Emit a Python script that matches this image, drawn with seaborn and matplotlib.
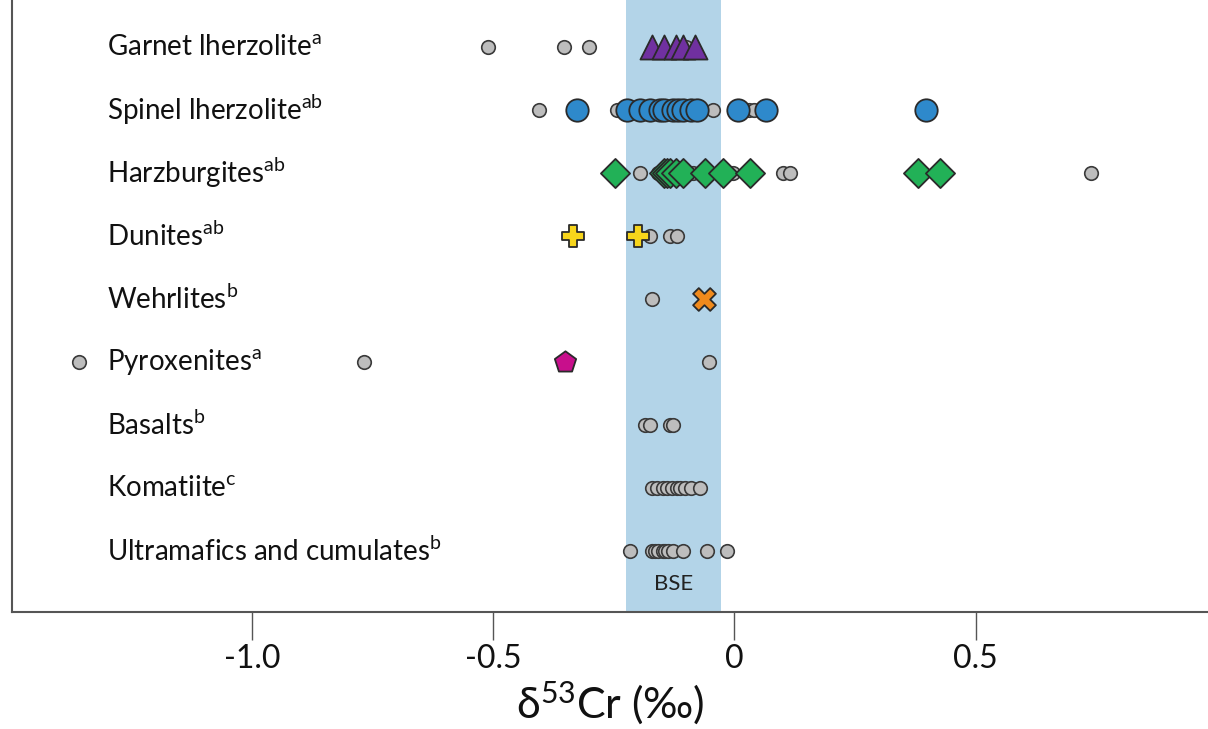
import numpy as np
import pandas as pd
import matplotlib
matplotlib.use("Agg")
import matplotlib.pyplot as plt
import seaborn as sns

# ---- data ----
categories = ["Garnet lherzolite", "Spinel lherzolite", "Harzburgites", "Dunites",
              "Wehrlites", "Pyroxenites", "Basalts", "Komatiite",
              "Ultramafics and cumulates"]
superscripts = ["a", "ab", "ab", "ab", "b", "a", "b", "c", "b"]

# grey (literature) values per category
grey_garnet = [-0.510, -0.353, -0.301, -0.100]
grey_spinel = [-0.405, -0.243, -0.044, 0.030, 0.040]
grey_harz = [-0.195, -0.158, -0.085, -0.002, 0.100, 0.116, 0.739]
grey_dunite = [-0.174, -0.133, -0.118]
grey_wehrlite = [-0.170]
grey_pyrox = [-1.359, -0.768, -0.052]
grey_basalt = [-0.185, -0.174, -0.133, -0.127]
grey_komatiite = [-0.170, -0.160, -0.149, -0.139, -0.129, -0.120, -0.112, -0.102, -0.091, -0.071]
grey_ultramafic = [-0.216, -0.170, -0.164, -0.158, -0.149, -0.143, -0.137, -0.127, -0.106, -0.056, -0.015]

# coloured (this study) values
garnet_vals = [-0.170, -0.147, -0.122, -0.106, -0.081]
spinel_vals = [-0.326, -0.222, -0.195, -0.174, -0.154, -0.147, -0.127, -0.116, -0.106,
               -0.091, -0.077, 0.008, 0.066, 0.398]
harz_vals = [-0.247, -0.147, -0.139, -0.133, -0.122, -0.106, -0.062, -0.023, 0.033, 0.380, 0.427]
dunite_vals = [-0.334, -0.199]
wehrlite_vals = [-0.064]
pyrox_vals = [-0.351]

bse_range = (-0.224, -0.027)
x_ticks = [-1.0, -0.5, 0.0, 0.5]
x_ticklabels = ["-1.0", "-0.5", "0", "0.5"]

# ---- style ----
sns.set_theme(style="white")
plt.rcParams["font.family"] = ["Lato", "DejaVu Sans"]
plt.rcParams["mathtext.fontset"] = "custom"
plt.rcParams["mathtext.rm"] = "Lato"
plt.rcParams["mathtext.it"] = "Lato:italic"
plt.rcParams["mathtext.bf"] = "Lato:bold"

fig = plt.figure(figsize=(12.08, 7.29), dpi=100)
ax = fig.add_axes([0.0099, 0.1605, 0.9901, 0.8395])

grey_lists = [grey_garnet, grey_spinel, grey_harz, grey_dunite, grey_wehrlite,
              grey_pyrox, grey_basalt, grey_komatiite, grey_ultramafic]
grey_df = pd.DataFrame({
    "value": [v for lst in grey_lists for v in lst],
    "row": [i for i, lst in enumerate(grey_lists) for _ in lst],
})

ax.axvspan(bse_range[0], bse_range[1], color="#b3d4e8", zorder=0, lw=0)

sns.scatterplot(data=grey_df, x="value", y="row", ax=ax, color="#bdbdbd",
                edgecolor="#3a3a3a", linewidth=1.2, s=95, zorder=3, legend=False)

colored = [
    (garnet_vals, 0, "^", "#7030a0", 300),
    (spinel_vals, 1, "o", "#2e89cb", 260),
    (harz_vals, 2, "D", "#22b157", 220),
    (dunite_vals, 3, "P", "#f7d51b", 230),
    (wehrlite_vals, 4, "X", "#f08a1c", 270),
    (pyrox_vals, 5, "p", "#c80f8c", 260),
]
for vals, row, marker, color, size in colored:
    d = pd.DataFrame({"value": vals, "row": [row] * len(vals)})
    sns.scatterplot(data=d, x="value", y="row", ax=ax, marker=marker, color=color,
                    edgecolor="#2a2a2a", linewidth=1.3, s=size, zorder=4, legend=False)

for i, (cat, sup) in enumerate(zip(categories, superscripts)):
    ax.text(-1.30, i, cat + r"$^{\mathrm{" + sup + "}}$", fontsize=20, color="#111111",
            ha="left", va="center", zorder=5)

ax.text(np.mean(bse_range), 8.53, "BSE", fontsize=16, color="#222222", ha="center",
        va="center", zorder=5)

ax.set_xlim(-1.498, 0.982)
ax.set_ylim(8.97, -0.75)
ax.set_yticks([])
ax.set_xticks(x_ticks)
ax.set_xticklabels(x_ticklabels, fontsize=23, color="#111111")
ax.tick_params(axis="x", direction="out", length=20, width=1.0, color="#555555",
               pad=3, bottom=True)
ax.set_xlabel(r"δ$^{53}$Cr (‰)", fontsize=31, color="#111111", labelpad=4)
ax.set_ylabel("")
for s in ["top", "right"]:
    ax.spines[s].set_visible(False)
for s in ["left", "bottom"]:
    ax.spines[s].set_color("#555555")
    ax.spines[s].set_linewidth(1.5)

fig.savefig("out.png", dpi=100)
